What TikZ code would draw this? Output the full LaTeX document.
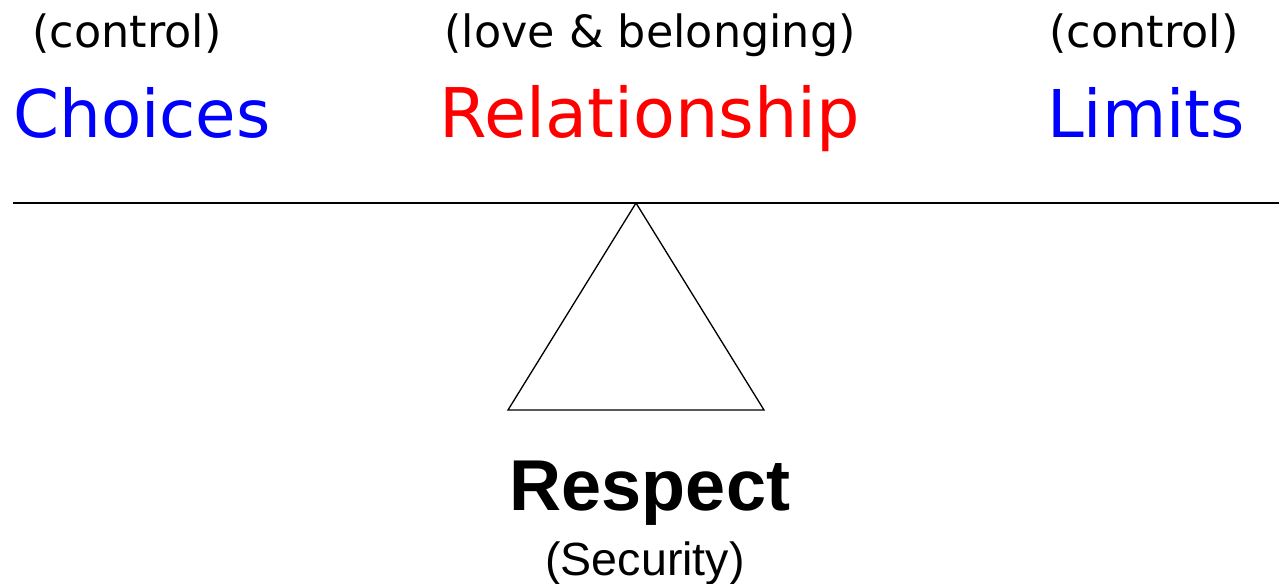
\documentclass[tikz,border=0pt]{standalone}
\usepackage{fontspec}
\setmainfont{DejaVu Sans}
\newfontfamily\arialfont{Liberation Sans}
\definecolor{bleu}{RGB}{0,0,255}
\definecolor{rouge}{RGB}{255,0,0}
\tikzset{
	besoin/.style={anchor=base, inner sep=0pt, font=\fontsize{25.3}{30}\selectfont},
	mot/.style={anchor=base, inner sep=0pt, font=\fontsize{37.5}{44}\selectfont},
}
\begin{document}
\begin{tikzpicture}[ x=0.02cm, y=-0.02cm, line width=0.75pt]
			\useasboundingbox (0,0) rectangle (1279,583);
			%Noeuds du haut
			\node[besoin] (Bcontrol1) at (127,47) {(control)};
			\node[mot, text=bleu] (Choices) at (142,137) {Choices};
			\node[besoin] (Blove) at (650,47) {(love \& belonging)};
			\node[mot, text=rouge, font=\fontsize{39}{46}\selectfont] (Relation) at (650,137) {Relationship};
			\node[besoin] (Bcontrol2) at (1144,47) {(control)};
			\node[mot, text=bleu] (Limits) at (1146,137) {Limits};
			%Balance
			\coordinate (Apex) at (636,203);
			\coordinate (BaseG) at (508,410);
			\coordinate (BaseD) at (764,410);
			\draw (13,203) -- (1279,203);
			\draw (Apex) -- (BaseG) -- (BaseD) -- cycle;
			%Noeuds du bas
			\node[anchor=base, inner sep=0pt, font=\arialfont\bfseries\fontsize{41}{48}\selectfont] (Respect) at (650,510) {Respect};
			\node[anchor=base, inner sep=0pt, font=\arialfont\fontsize{26.5}{32}\selectfont] (Security) at (645,575) {(Security)};
		\end{tikzpicture}
\end{document}
